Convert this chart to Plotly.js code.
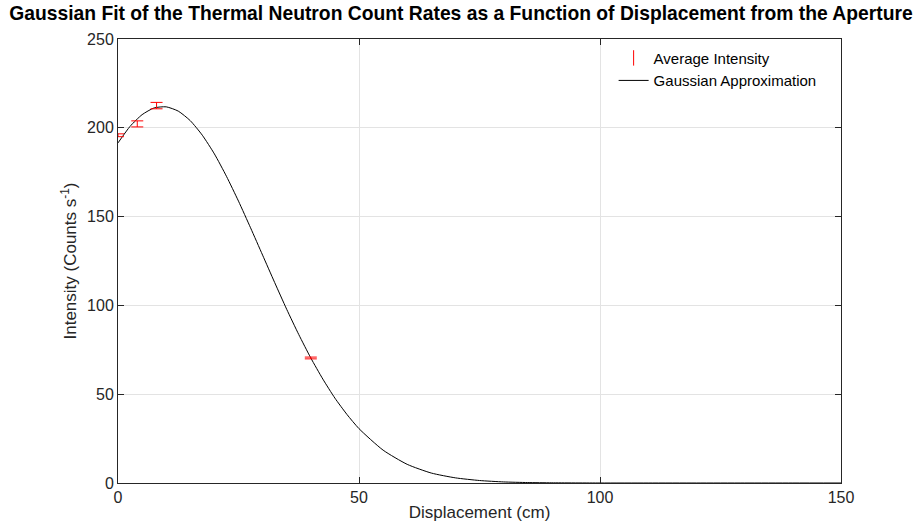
<!DOCTYPE html>
<html>
<head>
<meta charset="utf-8">
<script src="https://cdn.plot.ly/plotly-3.0.1.min.js"></script>
<style>html,body{margin:0;padding:0;background:#fff;}#chart{width:922px;height:524px;}</style>
</head>
<body>
<div id="chart"></div>
<script>
// Measured data points (displacement in cm, intensity in counts/s, error)
const dispPts = [0, 4, 8, 40];
const intensity = [195.8, 202.2, 212.5, 70.4];
const intensityErr = [0.8, 1.7, 1.8, 0.5];

// Gaussian approximation curve
const curveX = [0, 2.5, 5, 7.5, 10, 12.5, 15, 17.5, 20, 22.5, 25, 27.5, 30, 32.5, 35, 37.5, 40, 42.5, 45, 47.5, 50, 55, 60, 65, 70, 75, 80, 85, 90, 100, 110, 120, 130, 140, 150];
const curveY = [191.5, 200.8, 207.4, 211.2, 211.8, 209.4, 204.0, 195.8, 185.3, 172.7, 158.7, 143.7, 128.3, 112.9, 97.8, 83.6, 70.4, 58.5, 47.8, 38.6, 30.6, 18.5, 10.5, 5.6, 2.9, 1.4, 0.6, 0.25, 0.1, 0, 0, 0, 0, 0, 0];

const xTicks = [0, 50, 100, 150];
const yTicks = [0, 50, 100, 150, 200, 250];

const FONT = 'Liberation Sans, Arial, Helvetica, sans-serif';
const AX = '#262626';

const traces = [
  {
    x: curveX, y: curveY, type: 'scatter', mode: 'lines',
    line: {color: '#000000', width: 1, shape: 'spline', smoothing: 0.6},
    name: 'Gaussian Approximation', showlegend: false, hoverinfo: 'skip'
  },
  {
    x: dispPts, y: intensity, type: 'scatter', mode: 'markers',
    marker: {size: 0.1, color: 'rgba(255,0,0,0)'},
    error_y: {type: 'data', array: intensityErr, visible: true, color: '#ff0000', thickness: 1, width: 6},
    name: 'Average Intensity', showlegend: false
  },
  {
    x: [null], y: [null], type: 'scatter', mode: 'markers',
    marker: {symbol: 'line-ns-open', size: 11, color: '#ff0000', line: {color: '#ff0000', width: 1}},
    name: 'Average Intensity', showlegend: true
  },
  {
    x: [null], y: [null], type: 'scatter', mode: 'lines',
    line: {color: '#000000', width: 1},
    name: 'Gaussian Approximation', showlegend: true
  }
];

const layout = {
  width: 922, height: 524,
  margin: {l: 118, r: 81, t: 39, b: 41, pad: 0},
  paper_bgcolor: '#ffffff', plot_bgcolor: '#ffffff',
  font: {family: FONT, color: AX, size: 16},
  title: {
    text: '<b>Gaussian Fit of the Thermal Neutron Count Rates as a Function of Displacement from the Aperture</b>',
    font: {family: FONT, size: 19.3, color: '#000000'},
    x: 0.5, xref: 'container', xanchor: 'center', y: 0.975, yref: 'container', yanchor: 'middle'
  },
  xaxis: {
    range: [0, 150], tickvals: xTicks, ticktext: xTicks.map(String),
    showgrid: true, gridcolor: '#e3e3e3', gridwidth: 1, zeroline: false,
    showline: true, linecolor: AX, linewidth: 1, mirror: 'ticks',
    ticks: 'inside', ticklen: 6, tickcolor: AX,
    tickfont: {size: 16, color: AX, family: FONT},
    title: {text: 'Displacement (cm)', font: {size: 17, color: AX, family: FONT}, standoff: 0}
  },
  yaxis: {
    range: [0, 250], tickvals: yTicks, ticktext: yTicks.map(String),
    showgrid: true, gridcolor: '#e3e3e3', gridwidth: 1, zeroline: false,
    showline: true, linecolor: AX, linewidth: 1, mirror: 'ticks',
    ticks: 'inside', ticklen: 6, tickcolor: AX,
    tickfont: {size: 16, color: AX, family: FONT},
    title: {text: 'Intensity (Counts s<sup>-1</sup>)', font: {size: 17, color: AX, family: FONT}, standoff: 6}
  },
  legend: {
    x: 0.6855, y: 0.994, xanchor: 'left', yanchor: 'top',
    bgcolor: 'rgba(255,255,255,0)', borderwidth: 0,
    font: {size: 15, color: '#000000', family: FONT},
    tracegroupgap: 0, itemwidth: 30
  },
  showlegend: true
};

Plotly.newPlot('chart', traces, layout, {displayModeBar: false, staticPlot: true});
</script>
</body>
</html>
